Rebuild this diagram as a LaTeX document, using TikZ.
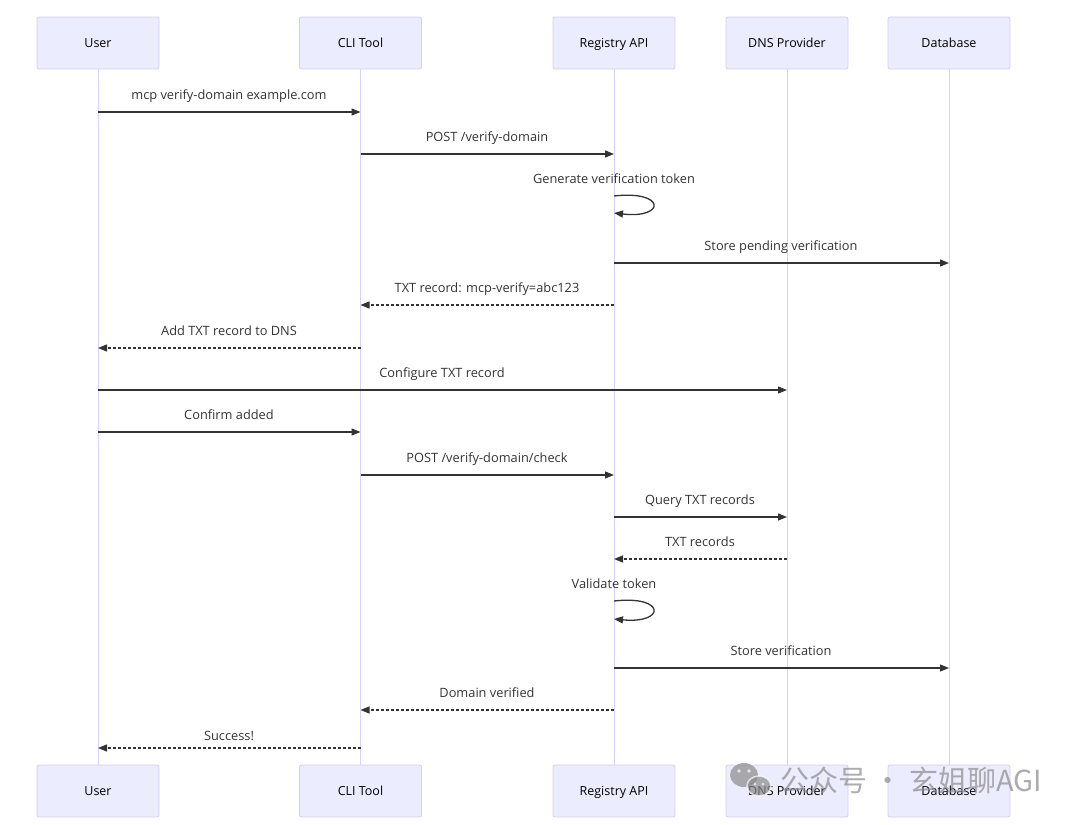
\documentclass[tikz,border=0pt]{standalone}
\usepackage{fontspec}
\setmainfont{Open Sans}
\newfontfamily\cjk{Noto Sans CJK SC}
\usetikzlibrary{arrows.meta}
\definecolor{boxfill}{HTML}{ECECFF}
\definecolor{boxdraw}{HTML}{D6CCF5}
\definecolor{lifeln}{HTML}{D9D0F7}
\definecolor{msgc}{HTML}{333333}
\definecolor{wm}{HTML}{8A8A8A}
\tikzset{
  actor/.style={draw=boxdraw, fill=boxfill, line width=0.8pt, rounded corners=2pt,
    minimum width=122pt, minimum height=52pt, inner sep=0pt, text height=10pt, text depth=2pt,
    font=\fontsize{12.5}{14}\selectfont, text=black},
  lifeline/.style={draw=lifeln, line width=1pt},
  msg/.style={draw=msgc, line width=1.3pt, -{Triangle[length=9pt,width=7pt]}},
  reply/.style={msg, dash pattern=on 3pt off 2pt},
  mlabel/.style={font=\fontsize{12.8}{14}\selectfont, text=msgc, inner sep=0pt, anchor=base},
}
\begin{document}
\begin{tikzpicture}[x=1pt,y=-1pt]
\useasboundingbox (0,0) rectangle (1080,825);
% actors
\foreach \n/\x/\t in {u/98/User, c/360.5/CLI Tool, r/614/Registry API, d/787/DNS Provider, b/949/Database}{
  \node[actor] (\n top) at (\x,43) {\t};
  \node[actor] (\n bot) at (\x,791) {\t};
  \draw[lifeline] (\n top.south) -- (\n bot.north);
}
% lifeline coordinates
\foreach \n/\x in {u/98, c/360.5, r/614, d/787, b/949}{
  \foreach \y in {112,154,196,213,263,305,348,390,432,475,517,559,601,619,668,710,748}{
    \coordinate (\n\y) at (\x,\y);
  }
}
% messages
\draw[msg] (u112) -- (c112);
\node[mlabel] at (229,99) {mcp verify-domain example.com};
\draw[msg] (c154) -- (r154);
\node[mlabel] at (487,141) {POST /verify-domain};
\node[mlabel] at (614,183) {Generate verification token};
\draw[msg] (r196) .. controls (666,190) and (666,219) .. (r213);
\draw[msg] (r263) -- (b263);
\node[mlabel] at (781,250) {Store pending verification};
\draw[reply] (r305) -- (c305);
\node[mlabel] at (487,292) {TXT record: mcp-verify=abc123};
\draw[reply] (c348) -- (u348);
\node[mlabel] at (229,335) {Add TXT record to DNS};
\draw[msg] (u390) -- (d390);
\node[mlabel] at (442,377) {Configure TXT record};
\draw[msg] (u432) -- (c432);
\node[mlabel] at (229,419) {Confirm added};
\draw[msg] (c475) -- (r475);
\node[mlabel] at (487,462) {POST /verify-domain/check};
\draw[msg] (r517) -- (d517);
\node[mlabel] at (700,504) {Query TXT records};
\draw[reply] (d559) -- (r559);
\node[mlabel] at (700,546) {TXT records};
\node[mlabel] at (614,588) {Validate token};
\draw[msg] (r601) .. controls (666,595) and (666,624) .. (r619);
\draw[msg] (r668) -- (b668);
\node[mlabel] at (781,655) {Store verification};
\draw[reply] (r710) -- (c710);
\node[mlabel] at (487,697) {Domain verified};
\draw[reply] (c748) -- (u748);
\node[mlabel] at (229,740) {Success!};
% watermark
\begin{scope}[opacity=0.7]
  \fill[wm] (744,775) ellipse (14pt and 12pt);
  \fill[white] (739,771) circle (1.8pt) (749,771) circle (1.8pt);
  \draw[white, line width=1.5pt, fill=wm] (759,786) ellipse (12pt and 10pt);
  \fill[white] (755,784) circle (1.5pt) (763,784) circle (1.5pt);
  \node[text=wm, font=\cjk\fontsize{29}{32}\selectfont, anchor=west, inner sep=0pt] (wmtext) at (780,780) {公众号 · 玄姐聊AGI};
\end{scope}
\end{tikzpicture}
\end{document}
